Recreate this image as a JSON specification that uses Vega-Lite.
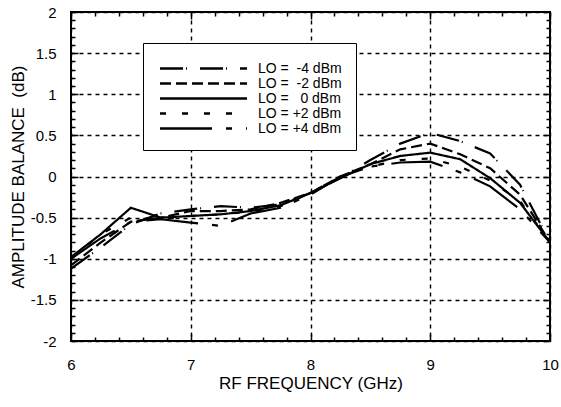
{
  "$schema": "https://vega.github.io/schema/vega-lite/v6.json",
  "width": 479,
  "height": 329,
  "autosize": {"type": "none"},
  "padding": {"left": 71, "top": 12, "right": 11, "bottom": 66},
  "config": {
    "view": {"stroke": "black", "strokeWidth": 2},
    "font": "Liberation Sans",
    "axis": {
      "domain": false,
      "labelFont": "Liberation Sans",
      "labelFontSize": 15,
      "labelColor": "black",
      "titleFont": "Liberation Sans",
      "titleFontSize": 17,
      "titleFontWeight": "normal",
      "titleColor": "black",
      "tickColor": "black",
      "tickWidth": 1.5,
      "gridColor": "black",
      "gridWidth": 1.4,
      "gridDash": [4, 4]
    }
  },
  "data": {
    "values": [
      {"f": 6, "lo": "-4", "v": -1.12}, {"f": 6.25, "lo": "-4", "v": -0.86}, {"f": 6.5, "lo": "-4", "v": -0.58}, {"f": 6.75, "lo": "-4", "v": -0.45}, {"f": 7, "lo": "-4", "v": -0.4}, {"f": 7.25, "lo": "-4", "v": -0.36}, {"f": 7.5, "lo": "-4", "v": -0.38}, {"f": 7.75, "lo": "-4", "v": -0.34}, {"f": 8, "lo": "-4", "v": -0.2}, {"f": 8.25, "lo": "-4", "v": -0.02}, {"f": 8.5, "lo": "-4", "v": 0.2}, {"f": 8.75, "lo": "-4", "v": 0.4}, {"f": 9, "lo": "-4", "v": 0.53}, {"f": 9.25, "lo": "-4", "v": 0.43}, {"f": 9.5, "lo": "-4", "v": 0.28}, {"f": 9.75, "lo": "-4", "v": -0.1}, {"f": 10, "lo": "-4", "v": -0.8},
      {"f": 6, "lo": "-2", "v": -1.08}, {"f": 6.25, "lo": "-2", "v": -0.8}, {"f": 6.5, "lo": "-2", "v": -0.55}, {"f": 6.75, "lo": "-2", "v": -0.5}, {"f": 7, "lo": "-2", "v": -0.42}, {"f": 7.25, "lo": "-2", "v": -0.42}, {"f": 7.5, "lo": "-2", "v": -0.4}, {"f": 7.75, "lo": "-2", "v": -0.32}, {"f": 8, "lo": "-2", "v": -0.2}, {"f": 8.25, "lo": "-2", "v": 0.0}, {"f": 8.5, "lo": "-2", "v": 0.15}, {"f": 8.75, "lo": "-2", "v": 0.33}, {"f": 9, "lo": "-2", "v": 0.4}, {"f": 9.25, "lo": "-2", "v": 0.27}, {"f": 9.5, "lo": "-2", "v": 0.1}, {"f": 9.75, "lo": "-2", "v": -0.22}, {"f": 10, "lo": "-2", "v": -0.8},
      {"f": 6, "lo": "0", "v": -0.98}, {"f": 6.25, "lo": "0", "v": -0.7}, {"f": 6.5, "lo": "0", "v": -0.38}, {"f": 6.75, "lo": "0", "v": -0.5}, {"f": 7, "lo": "0", "v": -0.48}, {"f": 7.25, "lo": "0", "v": -0.46}, {"f": 7.5, "lo": "0", "v": -0.42}, {"f": 7.75, "lo": "0", "v": -0.35}, {"f": 8, "lo": "0", "v": -0.2}, {"f": 8.25, "lo": "0", "v": -0.02}, {"f": 8.5, "lo": "0", "v": 0.15}, {"f": 8.75, "lo": "0", "v": 0.25}, {"f": 9, "lo": "0", "v": 0.29}, {"f": 9.25, "lo": "0", "v": 0.21}, {"f": 9.5, "lo": "0", "v": -0.02}, {"f": 9.75, "lo": "0", "v": -0.32}, {"f": 10, "lo": "0", "v": -0.8},
      {"f": 6, "lo": "+2", "v": -1.0}, {"f": 6.25, "lo": "+2", "v": -0.7}, {"f": 6.5, "lo": "+2", "v": -0.5}, {"f": 6.75, "lo": "+2", "v": -0.52}, {"f": 7, "lo": "+2", "v": -0.48}, {"f": 7.25, "lo": "+2", "v": -0.46}, {"f": 7.5, "lo": "+2", "v": -0.43}, {"f": 7.75, "lo": "+2", "v": -0.36}, {"f": 8, "lo": "+2", "v": -0.2}, {"f": 8.25, "lo": "+2", "v": 0.0}, {"f": 8.5, "lo": "+2", "v": 0.12}, {"f": 8.75, "lo": "+2", "v": 0.2}, {"f": 9, "lo": "+2", "v": 0.22}, {"f": 9.25, "lo": "+2", "v": 0.12}, {"f": 9.5, "lo": "+2", "v": -0.05}, {"f": 9.75, "lo": "+2", "v": -0.3}, {"f": 10, "lo": "+2", "v": -0.8},
      {"f": 6, "lo": "+4", "v": -1.0}, {"f": 6.25, "lo": "+4", "v": -0.75}, {"f": 6.5, "lo": "+4", "v": -0.55}, {"f": 6.75, "lo": "+4", "v": -0.52}, {"f": 7, "lo": "+4", "v": -0.56}, {"f": 7.25, "lo": "+4", "v": -0.6}, {"f": 7.5, "lo": "+4", "v": -0.45}, {"f": 7.75, "lo": "+4", "v": -0.38}, {"f": 8, "lo": "+4", "v": -0.22}, {"f": 8.25, "lo": "+4", "v": 0.0}, {"f": 8.5, "lo": "+4", "v": 0.12}, {"f": 8.75, "lo": "+4", "v": 0.17}, {"f": 9, "lo": "+4", "v": 0.18}, {"f": 9.25, "lo": "+4", "v": 0.05}, {"f": 9.5, "lo": "+4", "v": -0.12}, {"f": 9.75, "lo": "+4", "v": -0.4}, {"f": 10, "lo": "+4", "v": -0.8}
    ]
  },
  "layer": [
    {
      "mark": {"type": "line", "color": "black", "strokeWidth": 2.2, "clip": true},
      "encoding": {
        "x": {
          "field": "f", "type": "quantitative",
          "scale": {"domain": [6, 10], "nice": false, "zero": false},
          "axis": {
            "orient": "bottom",
            "title": "RF FREQUENCY (GHz)",
            "titlePadding": 3,
            "values": [6, 6.2, 6.4, 6.6, 6.8, 7, 7.2, 7.4, 7.6, 7.8, 8, 8.2, 8.4, 8.6, 8.8, 9, 9.2, 9.4, 9.6, 9.8, 10],
            "labelExpr": "abs(datum.value - round(datum.value)) < 0.01 ? format(round(datum.value), 'd') : ''",
            "labelPadding": 23,
            "labelFlush": false,
            "grid": true,
            "gridOpacity": {"condition": {"test": "abs(datum.value - round(datum.value)) < 0.01", "value": 1}, "value": 0},
            "tickSize": {"condition": {"test": "abs(datum.value - round(datum.value)) < 0.01", "value": -7}, "value": -4}
          }
        },
        "y": {
          "field": "v", "type": "quantitative",
          "scale": {"domain": [-2, 2], "nice": false, "zero": false},
          "axis": {
            "orient": "left",
            "title": "AMPLITUDE BALANCE\u00a0 (dB)",
            "titlePadding": 3,
            "values": [-2, -1.9, -1.8, -1.7, -1.6, -1.5, -1.4, -1.3, -1.2, -1.1, -1, -0.9, -0.8, -0.7, -0.6, -0.5, -0.4, -0.3, -0.2, -0.1, 0, 0.1, 0.2, 0.3, 0.4, 0.5, 0.6, 0.7, 0.8, 0.9, 1, 1.1, 1.2, 1.3, 1.4, 1.5, 1.6, 1.7, 1.8, 1.9, 2],
            "labelExpr": "abs(datum.value*2 - round(datum.value*2)) < 0.01 ? replace(format(round(datum.value*2)/2, ''), '\u2212', '-') : ''",
            "labelPadding": 22,
            "labelFlush": false,
            "grid": true,
            "gridOpacity": {"condition": {"test": "abs(datum.value*2 - round(datum.value*2)) < 0.01", "value": 1}, "value": 0},
            "tickSize": {"condition": {"test": "abs(datum.value*2 - round(datum.value*2)) < 0.01", "value": -7}, "value": -4}
          }
        },
        "strokeDash": {
          "field": "lo", "type": "nominal",
          "scale": {"domain": ["-4", "-2", "0", "+2", "+4"], "range": [[23, 3, 1, 13], [11, 5], [1, 0], [6, 16], [52, 14, 6, 14]]},
          "legend": {
            "orient": "none",
            "legendX": 72,
            "legendY": 31,
            "title": "\u00a0",
            "titleFontSize": 1,
            "titlePadding": 3,
            "direction": "vertical",
            "fillColor": "white",
            "strokeColor": "black",
            "padding": 14,
            "symbolType": "M-7.25,0H7.25",
            "symbolSize": 144,
            "symbolStrokeWidth": 2.5,
            "symbolStrokeColor": "black",
            "symbolOffset": 39,
            "labelOffset": 47,
            "labelFont": "Liberation Sans",
            "labelFontSize": 14,
            "labelColor": "black",
            "rowPadding": 0,
            "labelExpr": "'LO =' + (datum.label == '0' ? '\u00a0\u00a0\u00a0' : (indexof(datum.label, '-') == 0 ? '\u00a0\u00a0' : ' ')) + datum.label + ' dBm\u00a0\u00a0'"
          }
        }
      }
    },
    {
      "mark": {"type": "line", "opacity": 0},
      "encoding": {
        "x": {
          "field": "f", "type": "quantitative",
          "axis": {
            "orient": "top", "title": null, "labels": false, "grid": false,
            "values": [6, 6.2, 6.4, 6.6, 6.8, 7, 7.2, 7.4, 7.6, 7.8, 8, 8.2, 8.4, 8.6, 8.8, 9, 9.2, 9.4, 9.6, 9.8, 10],
            "tickSize": {"condition": {"test": "abs(datum.value - round(datum.value)) < 0.01", "value": -7}, "value": -4}
          }
        },
        "y": {
          "field": "v", "type": "quantitative",
          "axis": {
            "orient": "right", "title": null, "labels": false, "grid": false,
            "values": [-2, -1.9, -1.8, -1.7, -1.6, -1.5, -1.4, -1.3, -1.2, -1.1, -1, -0.9, -0.8, -0.7, -0.6, -0.5, -0.4, -0.3, -0.2, -0.1, 0, 0.1, 0.2, 0.3, 0.4, 0.5, 0.6, 0.7, 0.8, 0.9, 1, 1.1, 1.2, 1.3, 1.4, 1.5, 1.6, 1.7, 1.8, 1.9, 2],
            "tickSize": {"condition": {"test": "abs(datum.value*2 - round(datum.value*2)) < 0.01", "value": -7}, "value": -4}
          }
        }
      }
    }
  ],
  "resolve": {"axis": {"x": "independent", "y": "independent"}}
}
